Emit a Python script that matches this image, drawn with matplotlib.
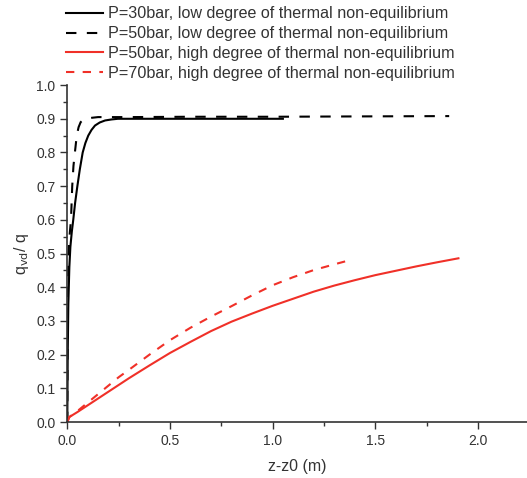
import numpy as np
import matplotlib
matplotlib.use('Agg')
import matplotlib.pyplot as plt
from matplotlib.ticker import MultipleLocator, FormatStrFormatter

plt.rcParams['font.family'] = ['Liberation Sans', 'DejaVu Sans']

# --- Data ---
labels = ['P=30bar, low degree of thermal non-equilibrium',
          'P=50bar, low degree of thermal non-equilibrium',
          'P=50bar, high degree of thermal non-equilibrium',
          'P=70bar, high degree of thermal non-equilibrium']

z_p30_low = [0.0, 0.002, 0.005, 0.010, 0.015, 0.022, 0.029, 0.038, 0.049, 0.061, 0.075,
             0.088, 0.102, 0.118, 0.135, 0.158, 0.184, 0.215, 0.247, 0.3, 0.5, 0.8, 1.05]
q_p30_low = [0.0, 0.2, 0.35, 0.46, 0.52, 0.565, 0.6, 0.65, 0.7, 0.75, 0.8,
             0.828, 0.85, 0.867, 0.88, 0.889, 0.895, 0.898, 0.9, 0.9, 0.9, 0.9, 0.9]

z_p50_low = [0.0, 0.001, 0.003, 0.006, 0.012, 0.018, 0.024, 0.030, 0.037, 0.046, 0.055,
             0.065, 0.078, 0.094, 0.12, 0.15, 0.3, 0.6, 1.0, 1.4, 1.86]
q_p50_low = [0.0, 0.25, 0.4, 0.5, 0.56, 0.6, 0.7, 0.76, 0.8, 0.85, 0.875,
             0.89, 0.897, 0.9, 0.903, 0.905, 0.905, 0.906, 0.906, 0.907, 0.908]

z_p50_high = [0.0, 0.01, 0.05, 0.1, 0.15, 0.2, 0.25, 0.3, 0.4, 0.5, 0.6, 0.7, 0.8, 0.9,
              1.0, 1.1, 1.2, 1.3, 1.4, 1.5, 1.6, 1.7, 1.8, 1.905]
q_p50_high = [0.0, 0.015, 0.03, 0.05, 0.07, 0.09, 0.11, 0.13, 0.168, 0.205, 0.238, 0.27,
              0.298, 0.322, 0.345, 0.366, 0.387, 0.405, 0.421, 0.436, 0.449, 0.462, 0.474, 0.486]

z_p70_high = [0.0, 0.01, 0.05, 0.1, 0.15, 0.2, 0.25, 0.3, 0.4, 0.5, 0.6, 0.7, 0.8, 0.9,
              1.0, 1.1, 1.2, 1.3, 1.385]
q_p70_high = [0.0, 0.015, 0.033, 0.058, 0.083, 0.108, 0.133, 0.155, 0.2, 0.243, 0.28, 0.313,
              0.344, 0.376, 0.406, 0.43, 0.451, 0.468, 0.482]

fig = plt.figure(figsize=(5.27, 4.78), dpi=100)
ax = fig.add_axes([0.1277, 0.117, 0.8723, 0.705])

red = '#f03028'
ax.plot(z_p30_low, q_p30_low, color='black', linestyle='-', linewidth=1.5, label=labels[0])
ax.plot(z_p50_low, q_p50_low, color='black', linestyle=(0, (5, 5)), linewidth=1.5, label=labels[1])
ax.plot(z_p50_high, q_p50_high, color=red, linestyle='-', linewidth=1.5, label=labels[2])
ax.plot(z_p70_high, q_p70_high, color=red, linestyle=(0, (4, 4)), linewidth=1.5, label=labels[3])

ax.set_xlim(0, 2.239)
ax.set_ylim(0, 1.0)
ax.xaxis.set_major_locator(MultipleLocator(0.5))
ax.xaxis.set_minor_locator(MultipleLocator(0.25))
ax.yaxis.set_major_locator(MultipleLocator(0.1))
ax.yaxis.set_minor_locator(MultipleLocator(0.05))
ax.xaxis.set_major_formatter(FormatStrFormatter('%.1f'))
ax.yaxis.set_major_formatter(FormatStrFormatter('%.1f'))

ax.spines['top'].set_visible(False)
ax.spines['right'].set_visible(False)
for s in ['left', 'bottom']:
    ax.spines[s].set_color('#333333')
    ax.spines[s].set_linewidth(1.2)
ax.tick_params(which='major', direction='out', length=5, width=1.0, color='#333333',
               labelsize=10, labelcolor='#333333')
ax.tick_params(which='minor', direction='out', length=3, width=1.0, color='#333333')

ax.set_xlabel('z-z0 (m)', fontsize=11.5, color='#333333', labelpad=8)
ax.set_ylabel(r'q$_{\mathrm{vd}}$/ q', fontsize=11.5, color='#333333', labelpad=4)

fig.legend(loc='upper left', bbox_to_anchor=(0.097, 1.017), frameon=False, fontsize=11.6,
           handlelength=2.3, handletextpad=0.3, labelspacing=0.3, labelcolor='#333333')

fig.savefig('out.png', dpi=100)
